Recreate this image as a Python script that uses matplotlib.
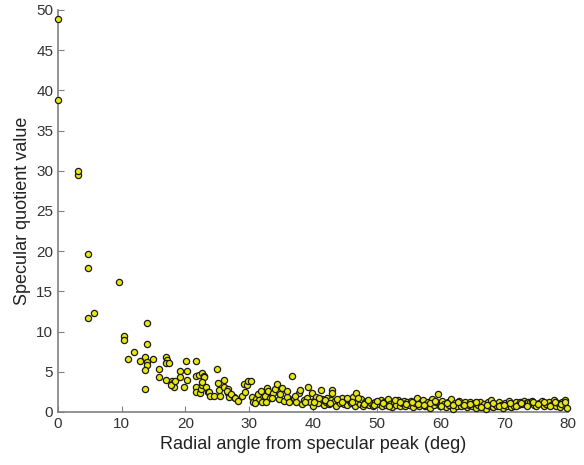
import numpy as np
import matplotlib.pyplot as plt

plt.rcParams['font.family'] = ['Liberation Sans', 'DejaVu Sans']

# angle (deg) and specular quotient
angle = [0.0, 0.0, 3.1, 3.2, 4.75, 4.75, 4.65, 5.7, 9.5, 10.4, 10.4, 11.0, 12.0, 12.9,
         13.9, 13.9, 13.6, 13.9, 14.0, 13.65, 13.65, 14.85, 15.85, 15.85, 16.9, 17.1,
         16.9, 17.4, 16.9, 17.9, 18.1, 18.2, 17.8, 18.3, 19.2, 19.2, 19.8, 20.1, 20.2,
         20.2, 21.7, 21.7, 22.1, 22.6, 22.9, 22.9, 21.7, 21.7, 22.3, 22.4, 22.6, 22.6,
         23.2, 23.5, 23.7, 24.9, 25.1, 23.9, 24.4, 25.4, 25.3, 26.0, 26.6, 26.7, 26.9,
         27.6, 28.2,
         26.1, 26.5, 27.2, 27.8, 28.3, 28.8, 29.1, 29.4, 29.7, 29.8, 30.2, 30.4, 30.6,
         31.0, 31.3, 31.6, 32.0, 32.4, 32.8, 33.0, 33.3, 33.8, 34.1, 34.4, 34.6, 34.9,
         35.2, 35.5,
         35.9, 36.3, 36.7, 37.0, 37.4, 37.8, 38.0, 38.3, 38.6, 39.0, 39.2, 39.5, 39.8, 40.0,
         40.3, 40.5, 40.8, 41.2, 41.4, 41.7, 42.0, 42.2, 42.5, 42.8, 43.0, 43.0, 43.3,
         43.6, 43.9, 44.2, 44.5, 44.8,
         45.1, 45.4, 45.7, 46.0, 46.3, 46.6, 46.8, 47.0, 47.3, 47.6, 47.9, 48.2, 48.5,
         48.8, 49.1, 49.4, 49.7,
         50.3, 50.6, 50.9, 51.2, 51.5, 51.8, 52.1, 52.4, 52.7, 53.0, 53.3, 53.6, 53.9,
         54.2, 54.5, 54.8,
         55.1, 55.4, 55.7, 56.0, 56.3, 56.6, 56.9, 57.2, 57.5, 57.8, 58.1, 58.4, 58.7,
         59.0, 59.3, 59.6, 59.9,
         60.2, 60.5, 60.8, 61.1, 61.4, 61.7, 62.0, 62.3, 62.6, 62.9, 63.2, 63.5, 63.8,
         64.1, 64.4, 64.7,
         65.0, 65.3, 65.6, 65.9, 66.2, 66.5, 66.8, 67.1, 67.4, 67.7, 68.0, 68.3, 68.6,
         68.9, 69.2, 69.5, 69.8,
         70.1, 70.4, 70.7, 71.0, 71.3, 71.6, 71.9, 72.2, 72.5, 72.8, 73.1, 73.4, 73.7,
         74.0, 74.3, 74.6,
         75.0, 75.5, 76.0, 76.3, 76.6, 77.0, 77.4, 77.8, 78.1, 78.4, 78.7, 79.0, 79.3,
         79.6, 79.9,
         # second, overlapping layer of the dense band
         30.9, 31.8, 32.6, 33.6, 36.0, 37.2, 38.8, 40.1, 41.0, 41.9, 42.7, 43.8, 44.6,
         45.3, 46.1, 47.1, 48.0, 48.7, 49.5, 50.1, 51.0, 51.9, 52.8, 53.7, 54.6, 55.5,
         56.5, 57.4, 58.3, 59.2, 60.1, 61.0, 61.9, 62.8, 63.7, 64.6, 65.5, 66.4, 67.3,
         68.2, 69.1, 70.0, 70.9, 71.8, 72.7, 73.6, 74.5, 75.3, 76.2, 77.2, 78.0, 78.9,
         79.5]
quotient = [48.9, 38.8, 29.5, 30.0, 19.65, 17.9, 11.7, 12.3, 16.2, 9.45, 8.9, 6.6, 7.4, 6.3,
            11.1, 8.4, 6.8, 6.2, 5.9, 5.2, 2.9, 6.6, 5.4, 4.4, 6.8, 6.5,
            6.1, 6.05, 4.0, 3.9, 3.6, 3.1, 3.4, 3.8, 5.15, 4.4, 3.15, 6.4, 5.15,
            3.95, 6.3, 4.5, 4.55, 4.9, 4.5, 4.3, 3.1, 2.5, 2.3, 2.9, 3.3, 3.7,
            3.1, 2.5, 2.5, 5.3, 3.6, 2.0, 2.0, 2.0, 2.7, 3.1, 2.4, 2.8, 1.9,
            1.9, 1.5,
            4.0, 2.6, 2.2, 1.7, 1.4, 2.0, 3.5, 2.5, 3.4, 3.8, 3.8, 1.9, 1.3,
            1.6, 2.2, 1.5, 1.2, 2.0, 3.0, 2.6, 1.8, 2.4, 2.9, 3.5, 1.6, 2.2,
            3.0, 1.4,
            1.9, 1.2, 4.5, 1.7, 1.3, 2.3, 2.7, 1.0, 1.5, 1.8, 3.1, 1.2, 2.4, 0.8,
            1.5, 1.9, 1.1, 2.7, 1.6, 0.9, 1.3, 1.8, 1.0, 1.5, 2.7, 2.3, 1.2,
            0.8, 1.4, 1.1, 1.7, 1.0,
            1.3, 0.9, 1.5, 1.1, 1.9, 0.7, 2.4, 1.3, 1.0, 1.6, 0.8, 1.2, 1.4,
            0.9, 1.1, 0.7, 1.3,
            1.0, 1.5, 0.7, 1.2, 0.9, 1.6, 1.0, 0.6, 1.3, 0.9, 1.5, 0.7, 1.1,
            1.4, 0.8, 1.2,
            0.9, 1.4, 0.6, 1.1, 1.7, 0.8, 1.2, 1.5, 0.7, 1.0, 1.3, 0.5, 1.6,
            0.9, 1.2, 2.2, 0.8,
            1.4, 1.0, 0.6, 1.3, 0.9, 1.6, 0.4, 1.1, 0.8, 1.4, 0.7, 1.0, 1.3,
            0.6, 0.9, 1.2,
            0.8, 1.1, 0.5, 0.9, 1.3, 0.7, 1.0, 0.4, 1.2, 0.8, 1.5, 0.6, 1.0,
            0.7, 1.3, 0.9, 0.5,
            1.1, 0.8, 1.4, 0.6, 1.0, 0.7, 1.2, 0.9, 1.3, 1.0, 1.4, 1.1, 1.3,
            1.2, 1.4, 0.9,
            0.8, 1.1, 1.4, 0.7, 1.0, 1.2, 0.9, 1.5, 0.8, 1.1, 0.6, 1.3, 0.9,
            1.5, 0.5,
            1.1, 2.6, 1.3, 1.7, 2.6, 2.0, 1.3, 1.2, 1.8, 1.5, 1.1, 1.6, 1.3,
            1.7, 1.2, 1.8, 1.0, 1.5, 0.9, 1.4, 1.1, 0.8, 1.5, 1.2, 1.0, 1.3,
            1.0, 0.9, 1.1, 1.4, 0.7, 1.1, 0.9, 1.2, 0.9, 1.0, 1.2, 0.6, 0.9,
            1.1, 0.8, 0.9, 1.1, 0.8, 1.1, 0.8, 1.2, 1.0, 1.2, 0.7, 1.3, 1.0,
            1.2]

fig = plt.figure(figsize=(5.84, 4.65), dpi=100)
ax = fig.add_axes([0.0993, 0.114, 0.8733, 0.8645])

ax.scatter(angle, quotient, s=20, c='#e8e810', edgecolors='#1a1a1a',
           linewidths=0.9, zorder=3, clip_on=False)

ax.set_xlim(0, 80)
ax.set_ylim(0, 50)
ax.set_xticks(np.arange(0, 81, 10))
ax.set_yticks(np.arange(0, 51, 5))

for s in ['top', 'right']:
    ax.spines[s].set_visible(False)
for s in ['left', 'bottom']:
    ax.spines[s].set_color('#808080')
    ax.spines[s].set_linewidth(1.2)
ax.tick_params(direction='in', length=4, color='#808080', labelsize=11,
               labelcolor='#333333')

ax.set_xlabel('Radial angle from specular peak (deg)', fontsize=13, color='#222222')
ax.set_ylabel('Specular quotient value', fontsize=13, color='#222222')

fig.savefig('out.png', dpi=100)
